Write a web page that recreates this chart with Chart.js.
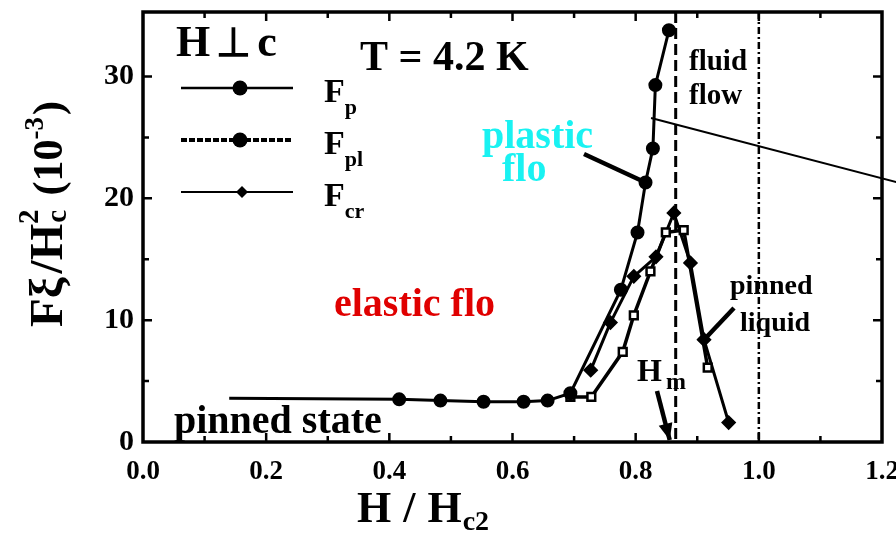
<!DOCTYPE html>
<html>
<head>
<meta charset="utf-8">
<script src="https://cdn.jsdelivr.net/npm/chart.js@4.4.1/dist/chart.umd.min.js"></script>
<style>
  html, body { margin: 0; padding: 0; background: #fff; }
  #wrap { width: 896px; height: 533px; }
</style>
</head>
<body>
<div id="wrap"><canvas id="c" width="896" height="533"></canvas></div>
<script>
// Axis ticks
const xTicks = [0.0, 0.2, 0.4, 0.6, 0.8, 1.0, 1.2];
const yTicks = [0, 10, 20, 30];

// F_p : pinning force (flat pinned-state branch, then steep rise)
const fpX = [0.14, 0.416, 0.483, 0.553, 0.618, 0.657, 0.694, 0.776, 0.803, 0.816, 0.828, 0.832, 0.854];
const fpY = [3.6, 3.5, 3.4, 3.3, 3.3, 3.4, 4.0, 12.5, 17.2, 21.3, 24.1, 29.3, 33.8];

// F_pl : plastic-flow threshold (open squares)
const fplX = [0.694, 0.728, 0.779, 0.797, 0.824, 0.849, 0.878, 0.917];
const fplY = [3.7, 3.7, 7.4, 10.4, 14.0, 17.2, 17.4, 6.1];

// F_cr : crossover force
const fcrX = [0.727, 0.759, 0.797, 0.833, 0.862, 0.889, 0.911, 0.951];
const fcrY = [5.9, 9.8, 13.6, 15.2, 18.8, 14.7, 8.4, 1.6];

// Characteristic fields
const hMelt = 0.865;
const hC2 = 1.0;

const pts = (xs, ys) => xs.map((x, i) => ({ x: x, y: ys[i] }));

const SERIF = '"Liberation Serif", "Times New Roman", serif';

// draw a sequence of text runs (size, vertical offset) starting at x, y
function richText(ctx, x, y, runs, color) {
  ctx.save();
  ctx.fillStyle = color || '#000';
  ctx.textBaseline = 'alphabetic';
  ctx.textAlign = 'left';
  let cx = x;
  for (const r of runs) {
    ctx.font = 'bold ' + r.size + 'px ' + SERIF;
    ctx.fillText(r.t, cx, y + (r.dy || 0));
    cx += ctx.measureText(r.t).width + (r.gap || 0);
  }
  ctx.restore();
  return cx - x;
}
function richWidth(ctx, runs) {
  let w = 0;
  ctx.save();
  for (const r of runs) {
    ctx.font = 'bold ' + r.size + 'px ' + SERIF;
    w += ctx.measureText(r.t).width + (r.gap || 0);
  }
  ctx.restore();
  return w;
}

function arrow(ctx, x1, y1, x2, y2, w, head) {
  ctx.save();
  ctx.strokeStyle = '#000';
  ctx.fillStyle = '#000';
  ctx.lineWidth = w;
  ctx.beginPath();
  ctx.moveTo(x1, y1);
  ctx.lineTo(x2, y2);
  ctx.stroke();
  if (head) {
    const a = Math.atan2(y2 - y1, x2 - x1);
    ctx.beginPath();
    ctx.moveTo(x2, y2);
    ctx.lineTo(x2 - head * Math.cos(a - 0.4), y2 - head * Math.sin(a - 0.4));
    ctx.lineTo(x2 - head * Math.cos(a + 0.4), y2 - head * Math.sin(a + 0.4));
    ctx.closePath();
    ctx.fill();
  }
  ctx.restore();
}

const decor = {
  id: 'decor',
  beforeDatasetsDraw(chart) {
    const { ctx, chartArea: a, scales: { x, y } } = chart;
    ctx.save();
    // H_m : dashed
    ctx.strokeStyle = '#000';
    ctx.lineWidth = 3;
    ctx.setLineDash([11, 5]);
    ctx.beginPath();
    ctx.moveTo(x.getPixelForValue(hMelt), a.top);
    ctx.lineTo(x.getPixelForValue(hMelt), a.bottom);
    ctx.stroke();
    // H_c2 : dash-dot
    ctx.lineWidth = 2.5;
    ctx.setLineDash([7, 3, 2, 3]);
    ctx.beginPath();
    ctx.moveTo(x.getPixelForValue(hC2), a.top);
    ctx.lineTo(x.getPixelForValue(hC2), a.bottom);
    ctx.stroke();
    ctx.restore();
  },
  afterDraw(chart) {
    const { ctx, chartArea: a, scales: { x, y } } = chart;
    const X = v => x.getPixelForValue(v);
    const Y = v => y.getPixelForValue(v);

    // frame
    ctx.save();
    ctx.strokeStyle = '#000';
    ctx.lineWidth = 3.5;
    ctx.strokeRect(a.left, a.top, a.right - a.left, a.bottom - a.top);
    // inward ticks
    ctx.lineWidth = 2.5;
    ctx.beginPath();
    for (let k = 1; k < 12; k++) {
      const px = X(k / 10);
      const L = k % 2 === 0 ? 9 : 6;
      ctx.moveTo(px, a.bottom); ctx.lineTo(px, a.bottom - L);
      ctx.moveTo(px, a.top); ctx.lineTo(px, a.top + L);
    }
    for (let v = 5; v < 35; v += 5) {
      const py = Y(v);
      const L = v % 10 === 0 ? 9 : 6;
      ctx.moveTo(a.left, py); ctx.lineTo(a.left + L, py);
      ctx.moveTo(a.right, py); ctx.lineTo(a.right - L, py);
    }
    ctx.stroke();
    ctx.restore();

    // legend (inside plot, upper left)
    const ds = chart.data.datasets;
    const rows = [
      { d: ds[0], sub: 'p', y: 88 },
      { d: ds[1], sub: 'pl', y: 140 },
      { d: ds[2], sub: 'cr', y: 192 }
    ];
    for (const r of rows) {
      ctx.save();
      ctx.strokeStyle = '#000';
      ctx.lineWidth = r.d.legendLineWidth;
      ctx.setLineDash(r.d.legendDash || []);
      ctx.beginPath();
      ctx.moveTo(181, r.y);
      ctx.lineTo(293, r.y);
      ctx.stroke();
      ctx.setLineDash([]);
      ctx.fillStyle = '#000';
      ctx.beginPath();
      if (r.d.legendMarker === 'diamond') {
        const s = 6;
        ctx.moveTo(242, r.y - s); ctx.lineTo(242 + s, r.y);
        ctx.lineTo(242, r.y + s); ctx.lineTo(242 - s, r.y);
        ctx.closePath();
      } else {
        ctx.arc(240, r.y, 7.5, 0, Math.PI * 2);
      }
      ctx.fill();
      ctx.restore();
      richText(ctx, 324, r.y + 14, [
        { t: 'F', size: 34, gap: 0 },
        { t: r.sub, size: 22, dy: 12 }
      ]);
    }

    // headings
    richText(ctx, 176, 56, [
      { t: 'H', size: 44, gap: 6 },
      { t: '\u22A5', size: 40, gap: 6 },
      { t: 'c', size: 44 }
    ]);
    richText(ctx, 360, 70, [{ t: 'T = 4.2 K', size: 42 }]);

    // region notes
    richText(ctx, 689, 70, [{ t: 'fluid', size: 29 }]);
    richText(ctx, 689, 104, [{ t: 'flow', size: 29 }]);
    richText(ctx, 730, 294, [{ t: 'pinned', size: 28 }]);
    richText(ctx, 740, 331, [{ t: 'liquid', size: 28 }]);

    // H_m marker
    richText(ctx, 637, 381, [
      { t: 'H', size: 32, gap: 4 },
      { t: 'm', size: 24, dy: 8 }
    ]);
    arrow(ctx, 657, 391, X(hMelt) - 6, Y(0) - 2, 4.5, 18);

    // pointers
    arrow(ctx, 584, 154, X(0.816), Y(21.3), 4.5, 0);
    arrow(ctx, 734, 308, X(0.911), Y(8.4), 4.5, 0);
    ctx.save();
    ctx.strokeStyle = '#000';
    ctx.lineWidth = 2;
    ctx.beginPath();
    ctx.moveTo(X(0.825), Y(26.6));
    ctx.lineTo(X(1.226), Y(21.3));
    ctx.stroke();
    ctx.restore();

    // flow-regime labels
    richText(ctx, 482, 148, [{ t: 'plastic', size: 40 }], '#19f2f2');
    richText(ctx, 502, 181, [{ t: 'flo', size: 40 }], '#19f2f2');
    richText(ctx, 334, 316, [{ t: 'elastic flo', size: 40 }], '#e00000');
    richText(ctx, 174, 433, [{ t: 'pinned state', size: 40 }], '#000');

    // axis titles
    const xr = [
      { t: 'H', size: 44, gap: 12 },
      { t: '/', size: 44, gap: 12 },
      { t: 'H', size: 44, gap: 1 },
      { t: 'c2', size: 28, dy: 8 }
    ];
    richText(ctx, 357, 522, xr);

    const yr = [
      { t: 'F\u03BE', size: 47, gap: 4 },
      { t: '/H', size: 47, gap: 1 },
      { t: 'c', size: 29, dy: 4, gap: -14 },
      { t: '2', size: 29, dy: -24, gap: 14 },
      { t: '(10', size: 42 },
      { t: '-3', size: 27, dy: -19, gap: 2 },
      { t: ')', size: 42 }
    ];
    const w = richWidth(ctx, yr);
    ctx.save();
    ctx.translate(62, 214);
    ctx.rotate(-Math.PI / 2);
    richText(ctx, -w / 2, 0, yr);
    ctx.restore();
  }
};

new Chart(document.getElementById('c'), {
  type: 'line',
  data: {
    datasets: [
      {
        label: 'F_p',
        data: pts(fpX, fpY),
        borderColor: '#000',
        backgroundColor: '#000',
        borderWidth: 3,
        pointStyle: 'circle',
        pointRadius: fpX.map((v, i) => (i === 0 ? 0 : 5.5)),
        pointBackgroundColor: '#000',
        pointBorderColor: '#000',
        legendLineWidth: 2.5,
        legendMarker: 'circle'
      },
      {
        label: 'F_pl',
        data: pts(fplX, fplY),
        borderColor: '#000',
        backgroundColor: '#fff',
        borderWidth: 3.5,
        pointStyle: 'rect',
        pointRadius: 5.5,
        pointBorderWidth: 2.5,
        pointBackgroundColor: '#fff',
        pointBorderColor: '#000',
        legendLineWidth: 4,
        legendDash: [6, 2],
        legendMarker: 'circle'
      },
      {
        label: 'F_cr',
        data: pts(fcrX, fcrY),
        borderColor: '#000',
        backgroundColor: '#000',
        borderWidth: 3,
        pointStyle: 'rectRot',
        pointRadius: 5.5,
        pointBackgroundColor: '#000',
        pointBorderColor: '#000',
        legendLineWidth: 2,
        legendMarker: 'diamond'
      }
    ]
  },
  options: {
    responsive: false,
    animation: false,
    devicePixelRatio: 1,
    layout: { autoPadding: false, padding: { top: 12, right: 14, left: 0, bottom: 0 } },
    plugins: { legend: { display: false }, tooltip: { enabled: false } },
    elements: { line: { tension: 0 } },
    scales: {
      x: {
        type: 'linear',
        min: 0,
        max: 1.2,
        border: { display: false },
        grid: { display: false, drawTicks: false },
        afterBuildTicks: s => { s.ticks = xTicks.map(v => ({ value: v })); },
        afterFit: s => { s.height = 91; s.paddingLeft = 0; s.paddingRight = 0; },
        ticks: {
          padding: 14,
          color: '#000',
          font: { family: SERIF, size: 27, weight: 'bold' },
          callback: v => Number(v).toFixed(1)
        }
      },
      y: {
        type: 'linear',
        min: 0,
        max: 35.3,
        border: { display: false },
        grid: { display: false, drawTicks: false },
        afterBuildTicks: s => { s.ticks = yTicks.map(v => ({ value: v })); },
        afterFit: s => { s.width = 143; s.paddingTop = 0; s.paddingBottom = 0; },
        ticks: {
          padding: 9,
          color: '#000',
          font: { family: SERIF, size: 30, weight: 'bold' },
          callback: v => String(v)
        }
      }
    }
  },
  plugins: [decor]
});
</script>
</body>
</html>
